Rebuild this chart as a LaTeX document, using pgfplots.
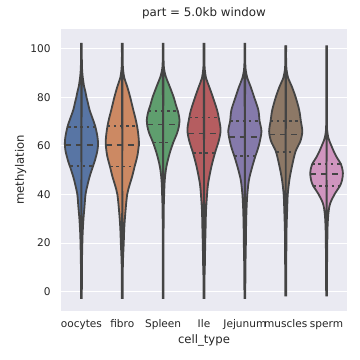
\documentclass[border=0pt]{standalone}
\usepackage{pgfplots}
\pgfplotsset{compat=1.18}
\usepackage{pgfplotstable}
\usepgfplotslibrary{fillbetween}
\usepackage{fontspec}
\setmainfont{DejaVu Sans}

\definecolor{bg}{HTML}{EAEAF2}
\definecolor{txt}{HTML}{262626}
\definecolor{edge}{HTML}{444444}
\definecolor{c0}{HTML}{5875A4}
\definecolor{c1}{HTML}{CC8963}
\definecolor{c2}{HTML}{5F9E6E}
\definecolor{c3}{HTML}{B55D60}
\definecolor{c4}{HTML}{857AAB}
\definecolor{c5}{HTML}{8D7866}
\definecolor{c6}{HTML}{D095BF}

% violin profiles: y value, half width (category units)
\pgfplotstableread{
y w
-3 0.01
10 0.012
18 0.02
24 0.03
30 0.05
35 0.075
40 0.1
44 0.15
47.3 0.2
51 0.27
54 0.33
58 0.39
61 0.406
64 0.39
68 0.34
71 0.28
74.8 0.2
78 0.155
80 0.125
82.5 0.095
84.5 0.065
88.6 0.03
92 0.015
96 0.01
102.5 0.01
}\vA
\pgfplotstableread{
y w
-3 0.01
8 0.012
14 0.02
19.7 0.035
26.6 0.05
33.5 0.08
40 0.12
44 0.18
47.3 0.24
51.4 0.3
56 0.37
61 0.406
65 0.39
68.4 0.36
71.5 0.32
74.8 0.27
80 0.195
84.5 0.12
88 0.05
91.4 0.02
95 0.01
102.5 0.01
}\vB
\pgfplotstableread{
y w
-3 0.01
30 0.012
40 0.025
46 0.04
51.5 0.08
57 0.16
61.5 0.25
65.2 0.34
68 0.385
70.7 0.4
73 0.38
74.4 0.36
77 0.31
80 0.26
84.5 0.16
88.6 0.065
92 0.02
96 0.01
102.5 0.01
}\vC
\pgfplotstableread{
y w
-3 0.01
5 0.012
10 0.02
19.7 0.03
26.6 0.04
33.5 0.05
40 0.075
44.5 0.1
51.4 0.18
57.2 0.27
62 0.36
66.6 0.406
71.7 0.36
74.8 0.32
80 0.22
84.5 0.125
88 0.05
91.4 0.02
95 0.01
102.5 0.01
}\vD
\pgfplotstableread{
y w
-3 0.01
10 0.015
19.7 0.025
26.6 0.03
33.5 0.04
40 0.06
46 0.1
51.4 0.18
55.9 0.26
60 0.34
65.9 0.406
70.3 0.36
74.8 0.33
80 0.23
84.5 0.14
88 0.06
91.4 0.02
95 0.01
102.5 0.01
}\vE
\pgfplotstableread{
y w
-2 0.01
15 0.015
25 0.02
33.5 0.035
40 0.05
46 0.09
51.4 0.15
57.7 0.24
62 0.36
66 0.406
70.3 0.37
74.8 0.33
80 0.245
84.5 0.15
88 0.06
91.4 0.02
95 0.01
101.5 0.01
}\vF
\pgfplotstableread{
y w
-2 0.01
10 0.012
20 0.018
26.8 0.025
32.3 0.045
36.4 0.09
40.5 0.21
43.6 0.33
46 0.38
48.7 0.4
51 0.38
52.6 0.35
55.6 0.24
58 0.17
60 0.12
62 0.07
63.6 0.04
66.4 0.015
70 0.01
101.5 0.01
}\vG

\newcommand{\violin}[3]{%
  \addplot[draw=none, smooth, tension=0.5, name path=R#1] table[x expr={#1+\thisrow{w}}, y=y] {#2};
  \addplot[draw=none, smooth, tension=0.5, name path=L#1] table[x expr={#1-\thisrow{w}}, y=y] {#2};
  \addplot[fill=#3, draw=edge, line width=1.8bp] fill between[of=R#1 and L#1];
}
% quartile lines: index, q1, w1, median, wm, q3, w3
\newcommand{\quarts}[7]{%
  \addplot[edge, line width=1.8bp, dash pattern=on 2.6bp off 3.6bp] coordinates {(#1-#3,#2) (#1+#3,#2)};
  \addplot[edge, line width=1.8bp, dash pattern=on 6bp off 5bp] coordinates {(#1-#5,#4) (#1+#5,#4)};
  \addplot[edge, line width=1.8bp, dash pattern=on 2.6bp off 3.6bp] coordinates {(#1-#7,#6) (#1+#7,#6)};
}

\begin{document}
\begin{tikzpicture}
\begin{axis}[
  name=ax,
  scale only axis,
  width=286bp, height=281.7bp,
  xmin=-0.5, xmax=6.5,
  ymin=-7.9, ymax=108.2,
  axis background/.style={fill=bg},
  axis line style={draw=none},
  major tick length=0pt,
  ymajorgrids, xmajorgrids=false,
  major grid style={white, line width=1bp},
  ytick={0,20,40,60,80,100},
  xtick={0,1,2,3,4,5,6},
  xticklabels={oocytes,fibro,Spleen,Ile,Jejunum,muscles,sperm},
  /pgf/number format/assume math mode=true,
  yticklabel style={anchor=east, inner sep=0pt, xshift=-10.3bp, font=\fontsize{10.6}{12}\selectfont, text=txt},
  xticklabel style={anchor=base, inner sep=0pt, yshift=-16.8bp, font=\fontsize{10.6}{12}\selectfont, text=txt},
  title={part = 5.0kb window},
  title style={at={(axis description cs:0.5,1)}, anchor=base, inner sep=0pt, yshift=6.3bp, font=\fontsize{11.9}{14}\selectfont, text=txt},
  xlabel={cell\_type},
  ylabel={methylation},
  every axis x label/.style={at={(axis description cs:0.5,0)}, anchor=base, inner sep=0pt, yshift=-32.6bp, font=\fontsize{11.7}{14}\selectfont, text=txt},
  every axis y label/.style={at={(axis description cs:-0.1294,0.5)}, rotate=90, anchor=base, inner sep=0pt, font=\fontsize{11.7}{14}\selectfont, text=txt},
  clip=false,
]
\violin{0}{\vA}{c0}
\violin{1}{\vB}{c1}
\violin{2}{\vC}{c2}
\violin{3}{\vD}{c3}
\violin{4}{\vE}{c4}
\violin{5}{\vF}{c5}
\violin{6}{\vG}{c6}
\quarts{0}{51.8}{0.27}{60.3}{0.405}{67.8}{0.33}
\quarts{1}{51.5}{0.3}{60.5}{0.405}{68.2}{0.36}
\quarts{2}{61.4}{0.25}{68.8}{0.39}{74.5}{0.355}
\quarts{3}{57.2}{0.27}{65.1}{0.4}{71.7}{0.36}
\quarts{4}{56.0}{0.26}{63.8}{0.4}{70.4}{0.36}
\quarts{5}{57.5}{0.23}{64.7}{0.4}{70.4}{0.37}
\quarts{6}{43.6}{0.33}{48.6}{0.4}{52.6}{0.35}
\end{axis}
\pgfresetboundingbox
\path[use as bounding box] ([shift={(-61bp,-49.3bp)}]ax.south west) rectangle +(360bp,360bp);
\end{tikzpicture}
\end{document}
